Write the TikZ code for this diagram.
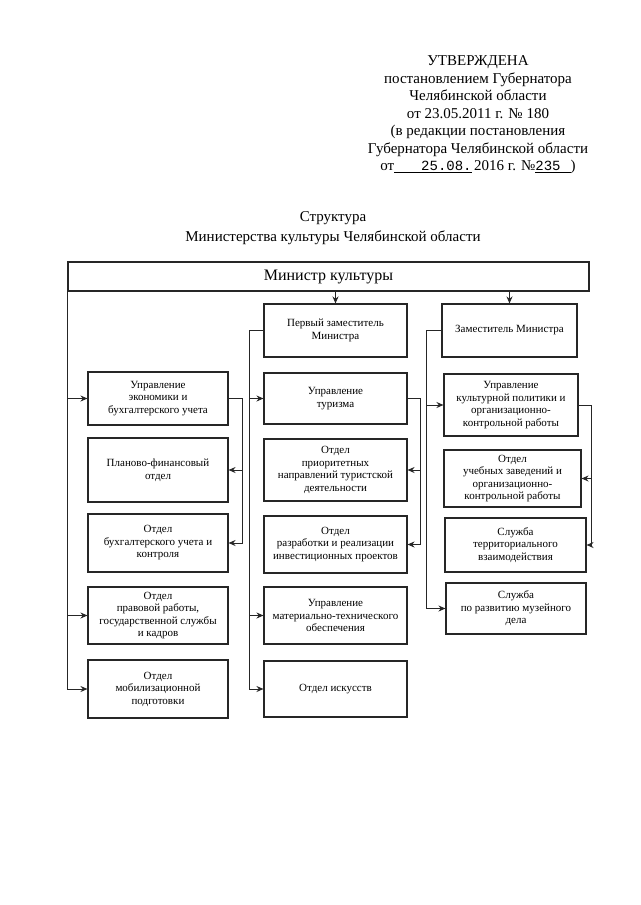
\documentclass[tikz,border=0pt]{standalone}
\usepackage{fontspec}
\setmainfont{Liberation Serif}
\setmonofont{Liberation Mono}
\usetikzlibrary{arrows.meta}
\begin{document}
\begin{tikzpicture}[x=1pt,y=-1pt,
 box/.style={draw=black!85, line width=1.1pt, inner sep=1pt, align=center, font=\fontsize{11}{12.5}\selectfont},
 conn/.style={draw=black!85, line width=1pt},
 arr/.style={conn, -{Stealth[length=7pt,width=6pt]}}]
\useasboundingbox[fill=white] (0,0) rectangle (640,905);

\node[font=\fontsize{15}{17.5}\selectfont, align=center] (hdr) at (478,115)
 {УТВЕРЖДЕНА\\постановлением Губернатора\\Челябинской области\\от 23.05.2011 г. № 180\\(в редакции постановления\\Губернатора Челябинской области\\от\underline{\hspace{27pt}{\fontsize{14}{17.5}\selectfont\texttt{25.08.}}}\,2016 г. №\underline{{\fontsize{14}{17.5}\selectfont\texttt{235}}\hspace{10pt}})};

\node[font=\fontsize{15}{20}\selectfont, align=center] (title) at (333,228)
 {Структура\\Министерства культуры Челябинской области};

\node[box, font=\fontsize{16}{18}\selectfont, minimum width=521pt, minimum height=29pt] (min) at (328.5,276.5) {Министр культуры};

% column 1
\node[box, minimum width=140pt, minimum height=53pt] (ue) at (158,398.5) {Управление\\экономики и\\бухгалтерского учета};
\node[box, minimum width=140pt, minimum height=64pt] (pf) at (158,470) {Планово-финансовый\\отдел};
\node[box, minimum width=140pt, minimum height=58pt] (bu) at (158,543) {Отдел\\бухгалтерского учета и\\контроля};
\node[box, minimum width=140pt, minimum height=57pt] (pr) at (158,615.5) {Отдел\\правовой работы,\\государственной службы\\и кадров};
\node[box, minimum width=140pt, minimum height=58pt] (mob) at (158,689) {Отдел\\мобилизационной\\подготовки};

% column 2
\node[box, minimum width=143pt, minimum height=53pt] (pz) at (335.5,330.5) {Первый заместитель\\Министра};
\node[box, minimum width=143pt, minimum height=51pt] (tur) at (335.5,398.5) {Управление\\туризма};
\node[box, minimum width=143pt, minimum height=62pt] (prior) at (335.5,470) {Отдел\\приоритетных\\направлений туристской\\деятельности};
\node[box, minimum width=143pt, minimum height=57pt] (razr) at (335.5,544.5) {Отдел\\разработки и реализации\\инвестиционных проектов};
\node[box, minimum width=143pt, minimum height=57pt] (mat) at (335.5,615.5) {Управление\\материально-технического\\обеспечения};
\node[box, minimum width=143pt, minimum height=56pt] (isk) at (335.5,689) {Отдел искусств};

% column 3
\node[box, minimum width=135pt, minimum height=53pt] (zm) at (509.5,330.5) {Заместитель Министра};
\node[box, minimum width=134pt, minimum height=62pt] (kult) at (511,405) {Управление\\культурной политики и\\организационно-\\контрольной работы};
\node[box, minimum width=137pt, minimum height=57pt] (ucheb) at (512.5,478.5) {Отдел\\учебных заведений и\\организационно-\\контрольной работы};
\node[box, minimum width=141pt, minimum height=54pt] (terr) at (515.5,545) {Служба\\территориального\\взаимодействия};
\node[box, minimum width=140pt, minimum height=51pt] (muz) at (516,608.5) {Служба\\по развитию музейного\\дела};

% minister to deputies
\draw[arr] (min.south -| pz.north) -- (pz.north);
\draw[arr] (min.south -| zm.north) -- (zm.north);

% left trunk
\draw[arr] (min.south west) |- (mob.west);
\draw[arr] (min.south west |- ue.west) -- (ue.west);
\draw[arr] (min.south west |- pr.west) -- (pr.west);

% column 1 bracket
\coordinate (b1) at ([xshift=14pt]ue.east);
\draw[arr] (ue.east) -- (b1) |- (bu.east);
\draw[arr] (b1 |- pf.east) -- (pf.east);

% column 2
\coordinate (l2) at ([xshift=-14pt]pz.west);
\draw[arr] (pz.west) -- (l2) |- (isk.west);
\draw[arr] (l2 |- tur.west) -- (tur.west);
\draw[arr] (l2 |- mat.west) -- (mat.west);
\coordinate (r2) at ([xshift=13pt]tur.east);
\draw[arr] (tur.east) -- (r2) |- (razr.east);
\draw[arr] (r2 |- prior.east) -- (prior.east);

% column 3
\coordinate (l3) at ([xshift=-15pt]zm.west);
\draw[arr] (zm.west) -- (l3) |- (muz.west);
\draw[arr] (l3 |- kult.west) -- (kult.west);
\coordinate (r3) at ([xshift=13pt]kult.east);
\draw[arr] (kult.east) -- (r3) |- (terr.east);
\draw[arr] (r3 |- ucheb.east) -- (ucheb.east);
\end{tikzpicture}
\end{document}
